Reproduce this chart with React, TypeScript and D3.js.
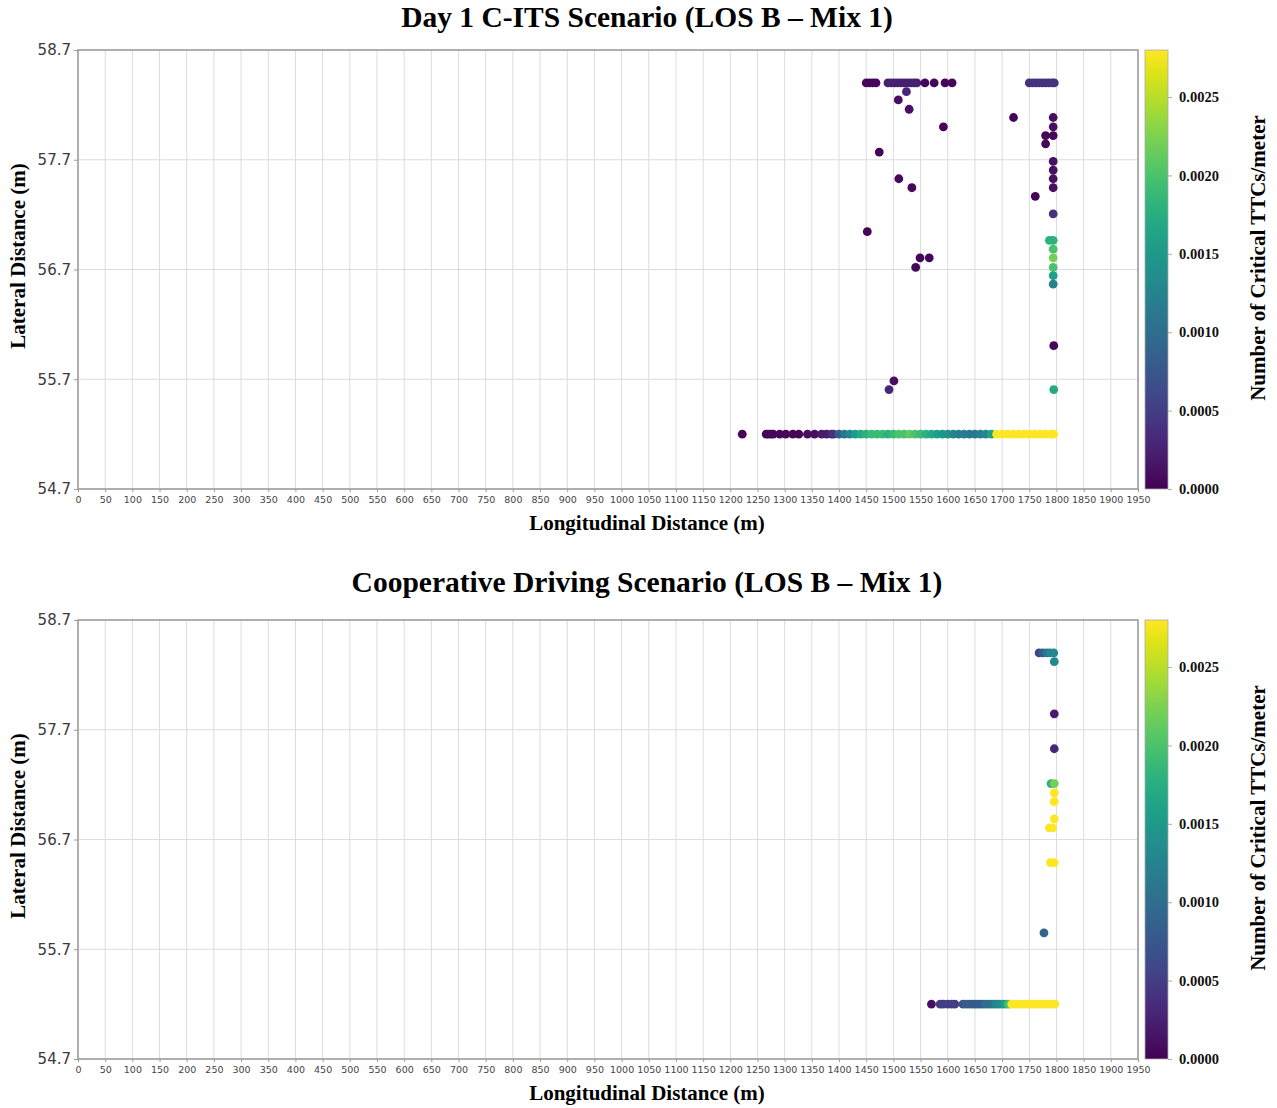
import React, { useEffect, useRef } from 'react'
import * as d3 from 'd3'

type Pt = [number, number, number] // [longitudinal m, lateral m, TTCs/meter]

const xTicks = d3.range(0, 1951, 50)
const yTicks = [54.7, 55.7, 56.7, 57.7, 58.7]
const cbarTicks = [0, 0.0005, 0.001, 0.0015, 0.002, 0.0025]
const cbarMax = 0.0028

// ---- Day 1 C-ITS ----
const day1TopRow: Pt[] = [
    [1450, 58.4, 0.00005], [1456, 58.4, 0.00005], [1462, 58.4, 0.00005], [1468, 58.4, 0.00005],
    [1490, 58.4, 0.00025], [1496, 58.4, 0.00025], [1502, 58.4, 0.00025], [1508, 58.4, 0.00025],
    [1514, 58.4, 0.00025], [1520, 58.4, 0.00025], [1526, 58.4, 0.00025], [1532, 58.4, 0.00025],
    [1538, 58.4, 0.00025], [1543, 58.4, 0.00025],
    [1558, 58.4, 0.00005], [1575, 58.4, 0.00005], [1595, 58.4, 0.00005], [1608, 58.4, 0.00005],
    [1750, 58.4, 0.0004], [1756, 58.4, 0.0004], [1762, 58.4, 0.0004], [1768, 58.4, 0.0004],
    [1774, 58.4, 0.0004], [1780, 58.4, 0.0004], [1786, 58.4, 0.0004], [1792, 58.4, 0.0004],
    [1796, 58.4, 0.0004],
]
const day1Scatter: Pt[] = [
    [1524, 58.32, 0.0003], [1509, 58.245, 0.0001], [1529, 58.16, 0.0001],
    [1721, 58.085, 0.00003], [1592, 58.0, 0.00003],
    [1794, 58.085, 0.0001], [1794, 58.0, 0.0001],
    [1780, 57.92, 0.00005], [1794, 57.92, 0.00005], [1780, 57.845, 0.00005],
    [1474, 57.77, 0.00003],
    [1794, 57.685, 0.0001], [1794, 57.606, 0.0001], [1794, 57.527, 0.0001], [1794, 57.445, 0.0001],
    [1510, 57.527, 0.00005], [1534, 57.445, 0.00005], [1761, 57.367, 0.00005],
    [1794, 57.206, 0.0004], [1452, 57.045, 0.00003],
    [1787, 56.966, 0.0018], [1794, 56.966, 0.0018],
    [1794, 56.885, 0.002], [1794, 56.806, 0.0022], [1794, 56.72, 0.002],
    [1549, 56.806, 0.00005], [1566, 56.806, 0.00005], [1541, 56.72, 0.00005],
    [1794, 56.645, 0.0016], [1794, 56.566, 0.0012],
    [1795, 56.006, 0.00005], [1795, 55.606, 0.0017],
    [1501, 55.685, 0.0001], [1492, 55.606, 0.0003],
]
const day1LeadIn: Pt[] = [
    [1222, 55.2, 0.00003], [1266, 55.2, 0.00005], [1270, 55.2, 0.00005], [1275, 55.2, 0.00005],
    [1279, 55.2, 0.00005], [1291, 55.2, 0.00005], [1302, 55.2, 0.00005], [1315, 55.2, 0.00005],
    [1326, 55.2, 0.00005], [1342, 55.2, 0.0001], [1355, 55.2, 0.0001], [1368, 55.2, 0.0002],
    [1377, 55.2, 0.0002], [1386, 55.2, 0.0003],
]
const day1Band: Pt[] = [
    [1390, 55.2, 0.0004], [1400, 55.2, 0.0008], [1410, 55.2, 0.0011], [1420, 55.2, 0.0013],
    [1430, 55.2, 0.0015], [1440, 55.2, 0.0017], [1450, 55.2, 0.0018], [1460, 55.2, 0.0019],
    [1470, 55.2, 0.0019], [1480, 55.2, 0.0019], [1490, 55.2, 0.0018], [1500, 55.2, 0.0019],
    [1510, 55.2, 0.002], [1520, 55.2, 0.002], [1530, 55.2, 0.0021], [1540, 55.2, 0.002],
    [1550, 55.2, 0.0019], [1560, 55.2, 0.0018], [1570, 55.2, 0.0017], [1580, 55.2, 0.0016],
    [1590, 55.2, 0.0015], [1600, 55.2, 0.0014], [1610, 55.2, 0.0013], [1620, 55.2, 0.0012],
    [1630, 55.2, 0.0012], [1640, 55.2, 0.0011], [1650, 55.2, 0.0011], [1660, 55.2, 0.0012],
    [1670, 55.2, 0.0013], [1680, 55.2, 0.0016], [1690, 55.2, 0.0028], [1700, 55.2, 0.0028],
    [1710, 55.2, 0.0028], [1720, 55.2, 0.0028], [1730, 55.2, 0.0028], [1740, 55.2, 0.0028],
    [1750, 55.2, 0.0028], [1760, 55.2, 0.0028], [1770, 55.2, 0.0028], [1780, 55.2, 0.0028],
    [1790, 55.2, 0.0028], [1795, 55.2, 0.0028],
]

// ---- Cooperative driving ----
const coopTopRow: Pt[] = [
    [1768, 58.4, 0.0006], [1775, 58.4, 0.0008], [1782, 58.4, 0.0011],
    [1788, 58.4, 0.0013], [1795, 58.4, 0.0013],
]
const coopScatter: Pt[] = [
    [1796, 58.32, 0.0013], [1796, 57.845, 0.0002], [1796, 57.527, 0.0003],
    [1790, 57.21, 0.0018], [1796, 57.21, 0.0022],
    [1796, 57.125, 0.0028], [1796, 57.045, 0.0028], [1796, 56.888, 0.0028],
    [1787, 56.806, 0.0028], [1793, 56.806, 0.0028],
    [1789, 56.49, 0.0028], [1796, 56.49, 0.0028],
    [1777, 55.85, 0.0009],
]
const coopBand: Pt[] = [
    [1570, 55.2, 0.0001], [1586, 55.2, 0.0005], [1592, 55.2, 0.0005], [1600, 55.2, 0.0005],
    [1607, 55.2, 0.0005], [1613, 55.2, 0.0005],
    [1628, 55.2, 0.0007], [1634, 55.2, 0.0008], [1640, 55.2, 0.0008], [1646, 55.2, 0.0008],
    [1652, 55.2, 0.0008], [1658, 55.2, 0.0008], [1664, 55.2, 0.0008], [1670, 55.2, 0.001],
    [1676, 55.2, 0.001], [1682, 55.2, 0.001], [1688, 55.2, 0.0013], [1694, 55.2, 0.0013],
    [1700, 55.2, 0.0014], [1706, 55.2, 0.0016], [1712, 55.2, 0.002],
    [1718, 55.2, 0.0028], [1724, 55.2, 0.0028], [1730, 55.2, 0.0028], [1736, 55.2, 0.0028],
    [1742, 55.2, 0.0028], [1748, 55.2, 0.0028], [1754, 55.2, 0.0028], [1760, 55.2, 0.0028],
    [1766, 55.2, 0.0028], [1772, 55.2, 0.0028], [1778, 55.2, 0.0028], [1784, 55.2, 0.0028],
    [1790, 55.2, 0.0028], [1797, 55.2, 0.0028],
]

const panels = [
    { title: 'Day 1 C-ITS Scenario (LOS B – Mix 1)', top: 50, titleY: 27,
      points: [...day1TopRow, ...day1Scatter, ...day1LeadIn, ...day1Band] },
    { title: 'Cooperative Driving Scenario (LOS B – Mix 1)', top: 620, titleY: 592,
      points: [...coopTopRow, ...coopScatter, ...coopBand] },
]

const W = 1277, H = 1108
const left = 78, right = 1138, plotH = 439
const cbX = 1145, cbW = 23
const serif = '"Liberation Serif", "Times New Roman", serif'
const sans = '"DejaVu Sans", sans-serif'

export default function App() {
    const ref = useRef<SVGSVGElement>(null)

    useEffect(() => {
        document.body.style.margin = '0'
        const svg = d3.select(ref.current)
        svg.selectAll('*').remove()

        const color = d3.scaleSequential(d3.interpolateViridis).domain([0, cbarMax])
        const x = d3.scaleLinear().domain([0, 1950]).range([left, right])

        const grad = svg.append('defs').append('linearGradient')
            .attr('id', 'viridis').attr('x1', 0).attr('y1', 1).attr('x2', 0).attr('y2', 0)
        d3.range(0, 1.001, 0.05).forEach(t => {
            grad.append('stop').attr('offset', t).attr('stop-color', d3.interpolateViridis(t))
        })

        panels.forEach(p => {
            const top = p.top
            const y = d3.scaleLinear().domain([54.7, 58.7]).range([top + plotH, top])
            const g = svg.append('g')

            g.append('text')
                .attr('x', 647).attr('y', p.titleY)
                .attr('text-anchor', 'middle')
                .style('font-family', serif).style('font-weight', 'bold').style('font-size', '29.5px')
                .text(p.title)

            // grid
            g.append('g').selectAll('line').data(xTicks).join('line')
                .attr('x1', d => x(d)).attr('x2', d => x(d))
                .attr('y1', top).attr('y2', top + plotH)
                .attr('stroke', '#dcdcdc').attr('stroke-width', 1)
            g.append('g').selectAll('line').data(yTicks).join('line')
                .attr('x1', left).attr('x2', right)
                .attr('y1', d => y(d)).attr('y2', d => y(d))
                .attr('stroke', '#dcdcdc').attr('stroke-width', 1)

            // axes
            const yAxis = d3.axisLeft(y).tickValues(yTicks).tickSize(4).tickPadding(3)
                .tickFormat(d3.format('.1f'))
            const ya = g.append('g').attr('transform', `translate(${left},0)`).call(yAxis)
            ya.select('.domain').remove()
            ya.selectAll('line').attr('stroke', '#999')
            ya.selectAll('text').style('font-family', sans).style('font-size', '15px').attr('fill', '#3a3a3a')

            const xAxis = d3.axisBottom(x).tickValues(xTicks).tickSize(3).tickPadding(4)
                .tickFormat(d3.format('d'))
            const xa = g.append('g').attr('transform', `translate(0,${top + plotH})`).call(xAxis)
            xa.select('.domain').remove()
            xa.selectAll('line').attr('stroke', '#999')
            xa.selectAll('text').style('font-family', sans).style('font-size', '9.5px').attr('fill', '#444')

            g.append('rect')
                .attr('x', left).attr('y', top).attr('width', right - left).attr('height', plotH)
                .attr('fill', 'none').attr('stroke', '#9a9a9a').attr('stroke-width', 1.5)

            // points
            g.append('g').selectAll('circle').data(p.points).join('circle')
                .attr('cx', d => x(d[0])).attr('cy', d => y(d[1])).attr('r', 4.4)
                .attr('fill', d => color(d[2]))

            // axis labels
            g.append('text')
                .attr('x', 647).attr('y', top + 480)
                .attr('text-anchor', 'middle')
                .style('font-family', serif).style('font-weight', 'bold').style('font-size', '21px')
                .text('Longitudinal Distance (m)')
            g.append('text')
                .attr('transform', `translate(18,${top + 206}) rotate(-90)`)
                .attr('text-anchor', 'middle').attr('dominant-baseline', 'central')
                .style('font-family', serif).style('font-weight', 'bold').style('font-size', '21px')
                .text('Lateral Distance (m)')

            // colorbar
            const cy = d3.scaleLinear().domain([0, cbarMax]).range([top + plotH, top])
            g.append('rect')
                .attr('x', cbX).attr('y', top).attr('width', cbW).attr('height', plotH)
                .attr('fill', 'url(#viridis)').attr('stroke', '#aaa').attr('stroke-width', 0.8)
            const cAxis = d3.axisRight(cy).tickValues(cbarTicks).tickSize(4).tickPadding(7)
                .tickFormat(d3.format('.4f'))
            const ca = g.append('g').attr('transform', `translate(${cbX + cbW},0)`).call(cAxis)
            ca.select('.domain').remove()
            ca.selectAll('line').attr('stroke', '#aaa')
            ca.selectAll('text').style('font-family', serif).style('font-weight', 'bold')
                .style('font-size', '14.5px').attr('fill', '#111')
            g.append('text')
                .attr('transform', `translate(1258,${top + 208}) rotate(-90)`)
                .attr('text-anchor', 'middle').attr('dominant-baseline', 'central')
                .style('font-family', serif).style('font-weight', 'bold').style('font-size', '21px')
                .text('Number of Critical TTCs/meter')
        })
    }, [])

    return <svg ref={ref} width={W} height={H} style={{ display: 'block', background: '#fff' }} />
}
